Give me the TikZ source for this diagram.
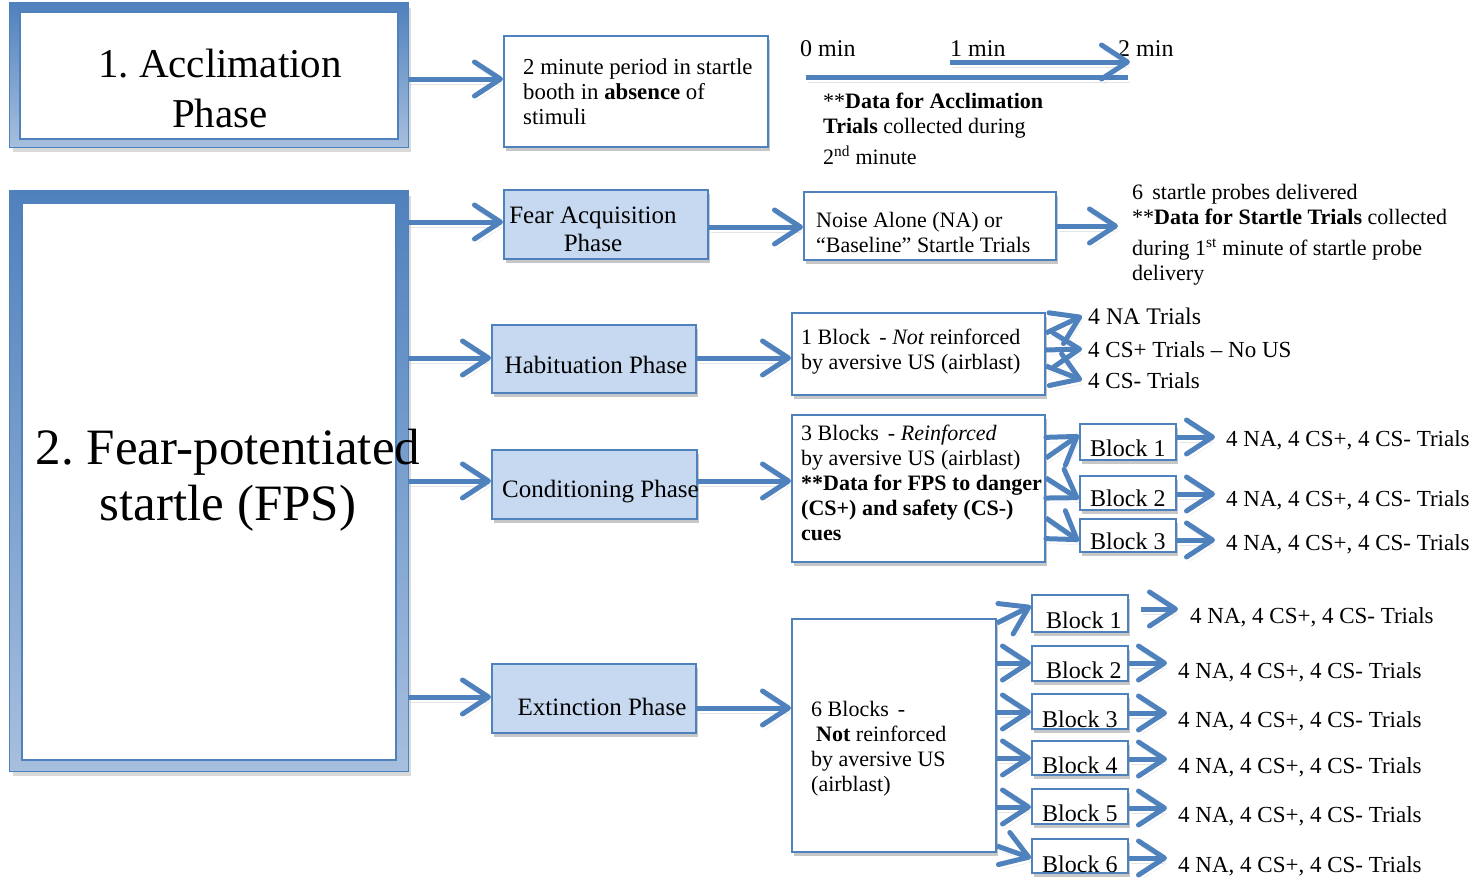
\documentclass[tikz,border=0pt]{standalone}
\usepackage{fontspec}
\setmainfont{Liberation Serif}
\frenchspacing
\usetikzlibrary{arrows.meta,shadows}
\definecolor{bl}{RGB}{79,129,189}
\definecolor{lb}{RGB}{198,217,241}
\definecolor{gb}{RGB}{167,191,222}
\begin{document}
\begin{tikzpicture}[x=1bp,y=-1bp,
  arr/.style={draw=bl, line width=5bp, -{Straight Barb[length=26bp,width=34bp,round]},
    preaction={draw=black, opacity=0.10, transform canvas={shift={(2bp,-5bp)}}}},
  shad/.style={drop shadow={shadow xshift=2bp, shadow yshift=-4bp, opacity=0.22, fill=black}},
  wbox/.style={draw=bl, line width=2bp, fill=white, inner sep=0pt, shad},
  lbox/.style={draw=bl, line width=2bp, fill=lb, inner sep=0pt, shad},
  txt/.style={inner sep=0pt, anchor=base west, align=left, font=\fontsize{22bp}{25bp}\selectfont},
  mtxt/.style={inner sep=0pt, anchor=base west, align=left, font=\fontsize{23bp}{28bp}\selectfont},
  ptxt/.style={inner sep=0pt, anchor=base, align=center, font=\fontsize{25bp}{28bp}\selectfont},
  btxt/.style={inner sep=0pt, anchor=base west, font=\fontsize{24bp}{28bp}\selectfont},
]
\useasboundingbox (0,0) rectangle (1473,877);

% ---------- big frames ----------
\node[minimum width=398bp, minimum height=144bp, inner sep=0pt] (acc) at (209,75) {};
\fill[black, opacity=0.15] ([shift={(3,5)}]acc.north west) rectangle ([shift={(3,5)}]acc.south east);
\shade[top color=bl, bottom color=gb] (acc.north west) rectangle (acc.south east);
\draw[bl, line width=1bp] (acc.north west) rectangle (acc.south east);
\fill[white] ([shift={(10,9)}]acc.north west) rectangle ([shift={(-10,-8)}]acc.south east);
\draw[bl, line width=1.5bp] ([shift={(10,9)}]acc.north west) rectangle ([shift={(-10,-8)}]acc.south east);
\node[inner sep=0pt, align=center, font=\fontsize{41bp}{50bp}\selectfont] (acct) at (220,88) {1. Acclimation\\Phase};

\node[minimum width=398bp, minimum height=580bp, inner sep=0pt] (fps) at (209,481) {};
\fill[black, opacity=0.15] ([shift={(3,5)}]fps.north west) rectangle ([shift={(3,5)}]fps.south east);
\shade[top color=bl, bottom color=gb] (fps.north west) rectangle (fps.south east);
\draw[bl, line width=1bp] (fps.north west) rectangle (fps.south east);
\fill[white] ([shift={(12,12)}]fps.north west) rectangle ([shift={(-12,-11)}]fps.south east);
\draw[bl, line width=1.5bp] ([shift={(12,12)}]fps.north west) rectangle ([shift={(-12,-11)}]fps.south east);
\node[inner sep=0pt, align=center, font=\fontsize{51bp}{56bp}\selectfont] (fpst) at (228,480) {2. Fear-potentiated\\startle (FPS)};

% ---------- acclimation row ----------
\node[wbox, minimum width=264bp, minimum height=111bp] (min2) at (636,91.5) {};
\node[txt, font=\fontsize{22.8bp}{25bp}\selectfont] (min2t) at (523,124) {2 minute period in startle\\booth in \textbf{absence} of\\stimuli};
\node[btxt] (t0) at (800,56) {0 min};
\node[btxt] (t1) at (950,56) {1 min};
\node[btxt] (t2) at (1118,56) {2 min};
\coordinate (tlA) at (806,77);
\coordinate (tlB) at (1128,77);
\coordinate (tlC) at (1130,62);
\draw[bl, line width=5bp, preaction={draw=black, opacity=0.10, transform canvas={shift={(2bp,-5bp)}}}] (tlA) -- (tlB);
\draw[arr] (t1.base west |- tlC) -- (tlC);
\node[txt] (acd) at (823,164) {**\textbf{Data for Acclimation}\\\textbf{Trials} collected during\\[6bp]2\textsuperscript{nd} minute};

% ---------- fear acquisition row ----------
\node[lbox, minimum width=204bp, minimum height=69bp] (fa) at (606,224.5) {};
\node[ptxt] (fat) at (593,251) {Fear Acquisition\\Phase};
\node[wbox, minimum width=252bp, minimum height=68bp] (na) at (930,226) {};
\node[txt] (nat) at (816,252) {Noise Alone (NA) or\\“Baseline” Startle Trials};
\node[txt] (spt) at (1132,280) {6\, startle probes delivered\\**\textbf{Data for Startle Trials} collected\\[6bp]during 1\textsuperscript{st} minute of startle probe\\delivery};

% ---------- habituation row ----------
\node[lbox, minimum width=204bp, minimum height=68bp] (hab) at (594,359) {};
\node[ptxt] (habt) at (596,373) {Habituation Phase};
\node[wbox, minimum width=253bp, minimum height=82bp] (hb) at (918.5,354) {};
\node[txt] (hbt) at (801,369) {1 Block\, - \textit{Not} reinforced\\by aversive US (airblast)};
\node[mtxt, font=\fontsize{23.8bp}{28bp}\selectfont] (h1) at (1088,324) {4 NA Trials};
\node[mtxt] (h2) at (1088,357) {4 CS+ Trials – No US};
\node[mtxt] (h3) at (1088,388) {4 CS- Trials};

% ---------- conditioning row ----------
\node[lbox, minimum width=205bp, minimum height=69bp] (cond) at (594.5,484.5) {};
\node[ptxt, anchor=base west] (condt) at (502,497) {Conditioning Phase};
\node[wbox, minimum width=253bp, minimum height=147bp] (cb) at (918.5,488.5) {};
\node[txt] (cbt) at (801,540) {3 Blocks\, - \textit{Reinforced}\\by aversive US (airblast)\\\textbf{**Data for FPS to danger}\\\textbf{(CS+) and safety (CS-)}\\\textbf{cues}};
\node[wbox, minimum width=96bp, minimum height=36bp] (cb1) at (1128,442) {};
\node[wbox, minimum width=96bp, minimum height=34bp] (cb2) at (1128,493) {};
\node[wbox, minimum width=96bp, minimum height=33bp] (cb3) at (1128,535.5) {};
\node[btxt] (cb1t) at (1090,456) {Block 1};
\node[btxt] (cb2t) at (1090,506) {Block 2};
\node[btxt] (cb3t) at (1090,549) {Block 3};
\node[mtxt] (c1) at (1226,446) {4 NA, 4 CS+, 4 CS- Trials};
\node[mtxt] (c2) at (1226,506) {4 NA, 4 CS+, 4 CS- Trials};
\node[mtxt] (c3) at (1226,550) {4 NA, 4 CS+, 4 CS- Trials};

% ---------- extinction row ----------
\node[lbox, minimum width=204bp, minimum height=69bp] (ext) at (594,698.5) {};
\node[ptxt] (extt) at (602,715) {Extinction Phase};
\node[wbox, minimum width=204bp, minimum height=233bp] (eb) at (894,735.5) {};
\node[txt] (ebt) at (811,791) {6 Blocks\, -\\\hspace{5bp}\textbf{Not} reinforced\\by aversive US\\(airblast)};
\node[wbox, minimum width=96bp, minimum height=37bp] (eb1) at (1080,613.5) {};
\node[wbox, minimum width=96bp, minimum height=35bp] (eb2) at (1080,663.5) {};
\node[wbox, minimum width=96bp, minimum height=35bp] (eb3) at (1080,711.5) {};
\node[wbox, minimum width=96bp, minimum height=34bp] (eb4) at (1080,758) {};
\node[wbox, minimum width=96bp, minimum height=35bp] (eb5) at (1080,806.5) {};
\node[wbox, minimum width=96bp, minimum height=34bp] (eb6) at (1080,856) {};
\node[btxt] (eb1t) at (1046,628) {Block 1};
\node[btxt] (eb2t) at (1046,678) {Block 2};
\node[btxt] (eb3t) at (1042,727) {Block 3};
\node[btxt] (eb4t) at (1042,773) {Block 4};
\node[btxt] (eb5t) at (1042,821) {Block 5};
\node[btxt] (eb6t) at (1042,872) {Block 6};
\node[mtxt] (e1) at (1190,623) {4 NA, 4 CS+, 4 CS- Trials};
\node[mtxt] (e2) at (1178,678) {4 NA, 4 CS+, 4 CS- Trials};
\node[mtxt] (e3) at (1178,727) {4 NA, 4 CS+, 4 CS- Trials};
\node[mtxt] (e4) at (1178,773) {4 NA, 4 CS+, 4 CS- Trials};
\node[mtxt] (e5) at (1178,822) {4 NA, 4 CS+, 4 CS- Trials};
\node[mtxt] (e6) at (1178,872) {4 NA, 4 CS+, 4 CS- Trials};

% ---------- connectors ----------
\draw[arr] (acc.east |- 0,79) -- (min2.west |- 0,79);
\draw[arr] (fps.east |- 0,222) -- (fa.west |- 0,222);
\draw[arr] (fa.east |- 0,227) -- (na.west |- 0,227);
\draw[arr] (na.east |- 0,226) -- ([xshift=-14bp]spt.west |- 0,226);
\draw[arr] (fps.east |- 0,358) -- (hab.west |- 0,358);
\draw[arr] (hab.east |- 0,358) -- (hb.west |- 0,358);
\draw[arr] (hb.east |- 0,333) -- ([xshift=-6bp]h1.west |- 0,316);
\draw[arr] (hb.east |- 0,350) -- ([xshift=-6bp]h2.west |- 0,349);
\draw[arr] (hb.east |- 0,366) -- ([xshift=-6bp]h3.west |- 0,380);
\draw[arr] (fps.east |- 0,481) -- (cond.west |- 0,481);
\draw[arr] (cond.east |- 0,481) -- (cb.west |- 0,481);
\draw[arr] (cb.east |- 0,458) -- (cb1.west |- 0,435);
\draw[arr] (cb.east |- 0,478) -- (cb2.west |- 0,499);
\draw[arr] (cb.east |- 0,518) -- (cb3.west |- 0,541);
\draw[arr] (cb1.east |- 0,437) -- ([xshift=-11bp]c1.west |- 0,437);
\draw[arr] (cb2.east |- 0,494) -- ([xshift=-11bp]c2.west |- 0,494);
\draw[arr] (cb3.east |- 0,540) -- ([xshift=-11bp]c3.west |- 0,540);
\draw[arr] (fps.east |- 0,697) -- (ext.west |- 0,697);
\draw[arr] (ext.east |- 0,708) -- (eb.west |- 0,708);
\draw[arr] (eb.east |- 0,623) -- (eb1.west |- 0,606);
\draw[arr] (eb.east |- 0,663) -- (eb2.west |- 0,663);
\draw[arr] (eb.east |- 0,712) -- (eb3.west |- 0,712);
\draw[arr] (eb.east |- 0,758) -- (eb4.west |- 0,758);
\draw[arr] (eb.east |- 0,807) -- (eb5.west |- 0,807);
\draw[arr] (eb.east |- 0,846) -- (eb6.west |- 0,858);
\draw[arr, shorten <=12bp] (eb1.east |- 0,609) -- ([xshift=-12bp]e1.west |- 0,609);
\draw[arr] (eb2.east |- 0,663) -- ([xshift=-11bp]e2.west |- 0,663);
\draw[arr] (eb3.east |- 0,713) -- ([xshift=-11bp]e3.west |- 0,713);
\draw[arr] (eb4.east |- 0,759) -- ([xshift=-11bp]e4.west |- 0,759);
\draw[arr] (eb5.east |- 0,808) -- ([xshift=-11bp]e5.west |- 0,808);
\draw[arr] (eb6.east |- 0,858) -- ([xshift=-11bp]e6.west |- 0,858);
\end{tikzpicture}
\end{document}
